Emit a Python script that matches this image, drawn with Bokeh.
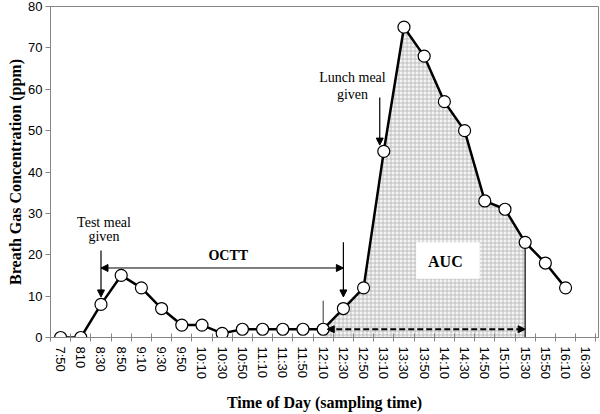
from bokeh.plotting import figure
from bokeh.models import FixedTicker, Arrow, NormalHead, Label, BoxAnnotation, Range1d
from bokeh.embed import file_html
from bokeh.resources import INLINE

# ---- data ----
times = ["7:50", "810", "8:30", "8:50", "9:10", "9:30", "9:50", "10:10", "10:30",
         "10:50", "11:10", "11:30", "11:50", "12:10", "12:30", "12:50", "13:10",
         "13:30", "13:50", "14:10", "14:30", "14:50", "15:10", "15:30", "15:50",
         "16:10", "16:30"]
conc = [0, 0, 8, 15, 12, 7, 3, 3, 1, 2, 2, 2, 2, 2, 7, 12, 45, 75, 68, 57, 50,
        33, 31, 23, 18, 12]
y_ticks = [0, 10, 20, 30, 40, 50, 60, 70, 80]

test_meal = "8:30"
octt_end = "12:30"
auc_start = "12:10"
auc_end = "15:30"
lunch = "13:10"

xs = list(range(len(conc)))
i_test = times.index(test_meal)
i_octt = times.index(octt_end)
i0 = times.index(auc_start)
i1 = times.index(auc_end)
i_lunch = times.index(lunch)

SERIF = "Liberation Serif"
SANS = "Liberation Sans"
GRAY = "#868686"

p = figure(width=600, height=414, output_backend="svg", toolbar_location=None,
           x_range=Range1d(-0.5, len(times) - 0.37), y_range=Range1d(0, 80),
           min_border_left=50, min_border_right=2, min_border_top=6, min_border_bottom=75)
p.xgrid.visible = False
p.ygrid.visible = False
p.outline_line_color = GRAY
p.outline_line_width = 1
p.background_fill_color = "white"

# ---- axes ----
p.yaxis.ticker = FixedTicker(ticks=y_ticks)
p.yaxis.axis_line_color = GRAY
p.yaxis.major_tick_line_color = GRAY
p.yaxis.major_tick_in = 0
p.yaxis.major_tick_out = 5
p.yaxis.minor_tick_line_color = None
p.yaxis.major_label_text_font = SANS
p.yaxis.major_label_text_font_size = "13px"
p.yaxis.major_label_text_color = "black"
p.yaxis.major_label_standoff = 3
p.yaxis.axis_label = "Breath Gas Concentration (ppm)"
p.yaxis.axis_label_text_font = SERIF
p.yaxis.axis_label_text_font_size = "16px"
p.yaxis.axis_label_text_font_style = "bold"
p.yaxis.axis_label_text_color = "black"
p.yaxis.axis_label_standoff = 1

p.xaxis.ticker = FixedTicker(ticks=list(range(len(times))),
                             minor_ticks=[i - 0.5 for i in range(len(times) + 1)])
p.xaxis.major_label_overrides = {i: t for i, t in enumerate(times)}
p.xaxis.major_label_orientation = "vertical"
p.xaxis.axis_line_color = GRAY
p.xaxis.major_tick_line_color = None
p.xaxis.major_tick_in = 0
p.xaxis.major_tick_out = 0
p.xaxis.minor_tick_line_color = GRAY
p.xaxis.minor_tick_in = 4
p.xaxis.minor_tick_out = 4
p.xaxis.major_label_text_font = SANS
p.xaxis.major_label_text_font_size = "13px"
p.xaxis.major_label_text_color = "black"
p.xaxis.major_label_standoff = 5
p.xaxis.axis_label = "Time of Day (sampling time)"
p.xaxis.axis_label_text_font = SERIF
p.xaxis.axis_label_text_font_size = "16px"
p.xaxis.axis_label_text_font_style = "bold"
p.xaxis.axis_label_text_color = "black"
p.xaxis.axis_label_standoff = 12

# ---- AUC hatched area ----
p.varea(x=xs[i0:i1 + 1], y1=[0] * (i1 - i0 + 1), y2=conc[i0:i1 + 1],
        fill_color="#f4f4f4", fill_alpha=1.0,
        hatch_pattern="+", hatch_scale=4, hatch_color="#aaaaaa", hatch_weight=0.7)
p.segment(x0=[xs[i1]], y0=[0], x1=[xs[i1]], y1=[conc[i1]], line_color="#333333", line_width=1.5)

box = BoxAnnotation(left=17.6, right=20.75, bottom=14.2, top=23, fill_color="white",
                    fill_alpha=1.0, line_color=None)
p.add_layout(box)
p.add_layout(Label(x=19.05, y=18.4, text="AUC", text_font=SERIF, text_font_size="16px",
                   text_font_style="bold", text_align="center", text_baseline="middle",
                   text_color="black"))

# dashed double arrow along baseline
p.add_layout(Arrow(x_start=i0 + 0.2, y_start=conc[i0], x_end=xs[i1], y_end=conc[i0],
                   line_dash="6 3", line_width=2, line_color="black",
                   start=NormalHead(size=7, fill_color="black", line_color="black"),
                   end=NormalHead(size=7, fill_color="black", line_color="black")))
# small vertical tick at 12:10
p.segment(x0=[xs[i0]], y0=[1.7], x1=[xs[i0]], y1=[8.9], line_color="#333333", line_width=1)

# ---- series ----
p.line(xs, conc, line_color="black", line_width=2.5)
p.scatter(xs, conc, size=12, fill_color="white", line_color="black", line_width=1.2)

# ---- annotations ----
def txt(x, y, s, bold=False):
    p.add_layout(Label(x=x, y=y, text=s, text_font=SERIF, text_font_size="14px",
                       text_font_style="bold" if bold else "normal", text_color="black",
                       text_align="center", text_baseline="middle"))

# Test meal
p.add_layout(Arrow(x_start=i_test, y_start=21, x_end=i_test, y_end=9.8, line_width=1.2,
                   end=NormalHead(size=7, fill_color="black", line_color="black")))
txt(i_test + 0.15, 27.9, "Test meal")
txt(i_test + 0.15, 24.3, "given")
# OCTT
p.add_layout(Arrow(x_start=i_test, y_start=16.8, x_end=i_octt, y_end=16.8, line_width=1,
                   start=NormalHead(size=7, fill_color="black", line_color="black"),
                   end=NormalHead(size=7, fill_color="black", line_color="black")))
txt(8.3, 19.9, "OCTT", bold=True)
p.add_layout(Arrow(x_start=i_octt, y_start=23, x_end=i_octt, y_end=9.8, line_width=1.2,
                   end=NormalHead(size=7, fill_color="black", line_color="black")))
# Lunch meal
p.add_layout(Arrow(x_start=i_lunch - 0.2, y_start=58, x_end=i_lunch - 0.2, y_end=46.5,
                   line_width=1.2, end=NormalHead(size=7, fill_color="black", line_color="black")))
txt(14.45, 62.8, "Lunch meal")
txt(14.45, 58.8, "given")

open("out.html", "w").write(file_html(p, INLINE))
